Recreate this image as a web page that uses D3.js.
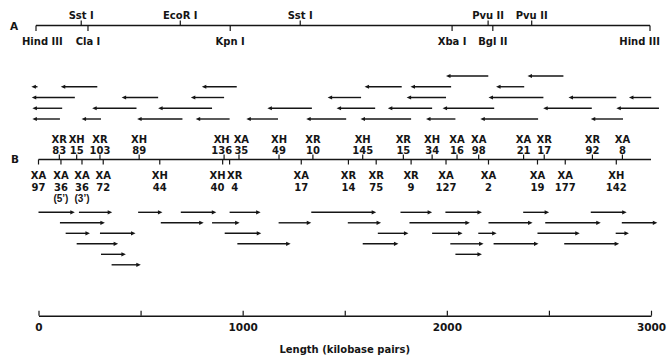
<!DOCTYPE html>
<html><head><meta charset="utf-8">
<script src="https://cdn.jsdelivr.net/npm/d3@7"></script>
<style>
body{margin:0;background:#fff}
text{font-family:"DejaVu Sans","Liberation Sans",Arial,sans-serif;font-weight:bold;fill:#151515}
text.note{font-family:"Liberation Sans",Arial,sans-serif}
</style>
</head><body>
<svg id="chart" width="667" height="358"></svg>
<script>
// ---- Map A: restriction sites (kb along the 3000 kb map)
const mapASiteNames = ["Hind III","Sst I","Cla I","EcoR I","Kpn I","Sst I","Xba I","Pvu II","Bgl II","Pvu II","Hind III"];
const mapASiteKb    = [0, 221, 254, 705, 949, 1291, 2033, 2209, 2232, 2422, 3000];
const mapASiteSide  = ["below","above","below","above","below","above","below","above","below","above","below"];

// ---- Map B: probes above the line
const upperProbeCodes   = ["XR","XH","XR","XH","XH","XA","XH","XR","XH","XR","XH","XA","XA","XA","XR","XR","XA"];
const upperProbeNumbers = ["83","15","103","89","136","35","49","10","145","15","34","16","98","21","17","92","8"];
const upperProbeKb      = [102, 187, 301, 493, 909, 982, 1178, 1344, 1588, 1787, 1928, 2050, 2156, 2376, 2477, 2713, 2860];

// ---- Map B: probes below the line
const lowerProbeCodes   = ["XA","XA","XA","XA","XH","XH","XR","XA","XR","XR","XR","XA","XA","XA","XA","XH"];
const lowerProbeNumbers = ["97","36","36","72","44","40","4","17","14","75","9","127","2","19","177","142"];
const lowerProbeNotes   = ["","(5\u2019)","(3\u2019)","","","","","","","","","","","","",""];
const lowerProbeKb      = [0, 110, 213, 317, 594, 902, 936, 1287, 1518, 1654, 1825, 1996, 2204, 2444, 2580, 2830];

// ---- Fragments: [start kb, end kb, row]; upper ones point left, lower ones point right
const upperArrows = [
  [1996,2203,0],[2395,2571,0],
  [-35,-5,1],[109,288,1],[800,971,1],[1597,1779,1],[1822,2021,1],[2241,2379,1],
  [-33,178,2],[407,586,2],[746,909,2],[1416,1580,2],[1803,1996,2],[2204,2473,2],[2596,2830,2],[2892,3001,2],
  [-30,116,3],[263,480,3],[586,850,3],[1121,1339,3],[1460,1649,3],[1711,1928,3],[1979,2232,3],[2472,2710,3],[2830,3039,3],
  [-30,105,4],[211,306,4],[483,705,4],[770,936,4],[1018,1173,4],[1311,1507,4],[1577,1825,4],[1898,2042,4],[2164,2447,4],[2705,2863,4]
];
const lowerArrows = [
  [0,178,0],[198,361,0],[488,607,0],[697,871,0],[936,1088,0],[1336,1654,0],[1773,1928,0],[1993,2172,0],[2374,2501,0],[2705,2881,0],
  [105,325,1],[599,809,1],[850,985,1],[1176,1336,1],[1515,1678,1],[1817,2113,1],[2204,2420,1],[2482,2754,1],[2857,3031,1],
  [133,252,2],[301,475,2],[912,1091,2],[1662,1812,2],[1928,2077,2],[2154,2244,2],[2444,2651,2],[2827,2892,2],
  [187,390,3],[974,1235,3],[1588,1763,3],[2017,2180,3],[2229,2449,3],[2575,2844,3],
  [306,428,4],[2042,2172,4],
  [358,501,5]
];

// ---- Axis
const axisTicks = [0,500,1000,1500,2000,2500,3000];
const axisLabels = [0,1000,2000,3000];
const axisTitle = "Length (kilobase pairs)";

const svg = d3.select("#chart");
const ink = "#151515";
const xA = d3.scaleLinear().domain([0,3000]).range([36,650]);
const xB = d3.scaleLinear().domain([0,3000]).range([38.5,651]);
const yUpperRow = d3.scaleLinear().domain([0,4]).range([76,119]);
const yLowerRow = d3.scaleLinear().domain([0,5]).range([212.3,264.8]);

// ===== Map A
const yA = 25.5;
svg.append("text").attr("x",10).attr("y",29.5).attr("font-size",10.5).text("A");
svg.append("line").attr("x1",xA(0)).attr("x2",xA(3000)).attr("y1",yA).attr("y2",yA)
  .attr("stroke",ink).attr("stroke-width",1.4);
const sitesA = mapASiteNames.map((n,i)=>({name:n,kb:mapASiteKb[i],side:mapASiteSide[i]}));
const gA = svg.append("g");
gA.selectAll("line.site").data(sitesA).join("line")
  .attr("x1",d=>xA(d.kb)).attr("x2",d=>xA(d.kb))
  .attr("y1",d=>d.side==="above"?yA-5:yA).attr("y2",d=>d.side==="above"?yA:yA+5.5)
  .attr("stroke",ink).attr("stroke-width",1.2);
gA.selectAll("text").data(sitesA).join("text")
  .attr("font-size",10)
  .attr("text-anchor","middle")
  .attr("x",d=>xA(d.kb))
  .attr("y",d=>d.side==="above"?19:45)
  .text(d=>d.name)
  .each(function(d){
    const w=this.getComputedTextLength();
    let cx=xA(d.kb);
    cx=Math.max(22+w/2,Math.min(660-w/2,cx));
    d3.select(this).attr("x",cx);
  });

// ===== Map B
const yB = 159.5;
svg.append("text").attr("x",11).attr("y",163).attr("font-size",10.5).text("B");
svg.append("line").attr("x1",xB(0)).attr("x2",xB(3000)).attr("y1",yB).attr("y2",yB)
  .attr("stroke",ink).attr("stroke-width",1.4);

const fs=10;
const gB = svg.append("g");

function placeLabels(items, rows){
  // rows: [{key, y, cls}] ; build texts, measure widths, then spread horizontally
  const groups = gB.append("g").selectAll("g").data(items).join("g");
  rows.forEach(r=>{
    groups.filter(d=>d[r.key]).append("text")
      .attr("class",r.cls||null)
      .attr("y",r.y).attr("text-anchor","middle").attr("font-size",fs)
      .text(d=>d[r.key]);
  });
  groups.each(function(d){
    let w=0; d3.select(this).selectAll("text").each(function(){w=Math.max(w,this.getComputedTextLength());});
    d.w=w; d.p=xB(d.kb);
  });
  const s=[...items].sort((a,b)=>a.p-b.p);
  for(let it=0;it<40;it++){
    for(let i=0;i<s.length-1;i++){
      const need=(s[i].w+s[i+1].w)/2+1.5;
      const d=s[i+1].p-s[i].p;
      if(d<need){const sh=(need-d)/2;s[i].p-=sh;s[i+1].p+=sh;}
    }
  }
  groups.selectAll("text").attr("x",function(){return d3.select(this.parentNode).datum().p;});
}

const upperProbes = upperProbeCodes.map((c,i)=>({code:c,num:upperProbeNumbers[i],kb:upperProbeKb[i]}));
const lowerProbes = lowerProbeCodes.map((c,i)=>({code:c,num:lowerProbeNumbers[i],note:lowerProbeNotes[i],kb:lowerProbeKb[i]}));

gB.selectAll("line.up").data(upperProbes).join("line").attr("class","up")
  .attr("x1",d=>xB(d.kb)).attr("x2",d=>xB(d.kb)).attr("y1",yB-5).attr("y2",yB)
  .attr("stroke",ink).attr("stroke-width",1.2);
gB.selectAll("line.dn").data(lowerProbes).join("line").attr("class","dn")
  .attr("x1",d=>xB(d.kb)).attr("x2",d=>xB(d.kb)).attr("y1",yB).attr("y2",yB+5)
  .attr("stroke",ink).attr("stroke-width",1.2);

placeLabels(upperProbes,[{key:"code",y:142.5},{key:"num",y:153.5}]);
placeLabels(lowerProbes,[{key:"code",y:179},{key:"num",y:191},{key:"note",y:201.5,cls:"note"}]);

// ===== Arrows
function arrowPath(x1,x2,y,dir){
  const h=4.5, w=2.1;
  if(dir<0){ return `M${x1},${y}L${x1+h},${y-w}L${x1+h},${y+w}Z`; }
  return `M${x2},${y}L${x2-h},${y-w}L${x2-h},${y+w}Z`;
}
const gArr = svg.append("g");
function drawArrows(data,yScale,dir){
  const g=gArr.append("g");
  g.selectAll("line").data(data).join("line")
    .attr("x1",d=>dir<0?xB(d[0])+3:xB(d[0]))
    .attr("x2",d=>dir<0?xB(d[1]):xB(d[1])-3)
    .attr("y1",d=>yScale(d[2])).attr("y2",d=>yScale(d[2]))
    .attr("stroke",ink).attr("stroke-width",1.4);
  g.selectAll("path").data(data).join("path")
    .attr("d",d=>arrowPath(xB(d[0]),xB(d[1]),yScale(d[2]),dir))
    .attr("fill",ink);
}
drawArrows(upperArrows,yUpperRow,-1);
drawArrows(lowerArrows,yLowerRow,1);

// ===== Bottom axis
const yAx = 315.7;
const axis = d3.axisBottom(xB).tickValues(axisTicks).tickSizeInner(-5).tickSizeOuter(0).tickPadding(8)
  .tickFormat(d=>axisLabels.includes(d)?String(d):"");
const gAx = svg.append("g").attr("transform",`translate(0,${yAx})`).call(axis);
gAx.select(".domain").attr("stroke",ink).attr("stroke-width",1.4);
gAx.selectAll(".tick line").attr("stroke",ink).attr("stroke-width",1.2);
gAx.selectAll(".tick text").attr("font-size",10.5).attr("font-family",null).attr("fill",ink);
svg.append("text").attr("x",(xB(0)+xB(3000))/2).attr("y",353).attr("text-anchor","middle")
  .attr("font-size",10).text(axisTitle);
</script>
</body></html>
